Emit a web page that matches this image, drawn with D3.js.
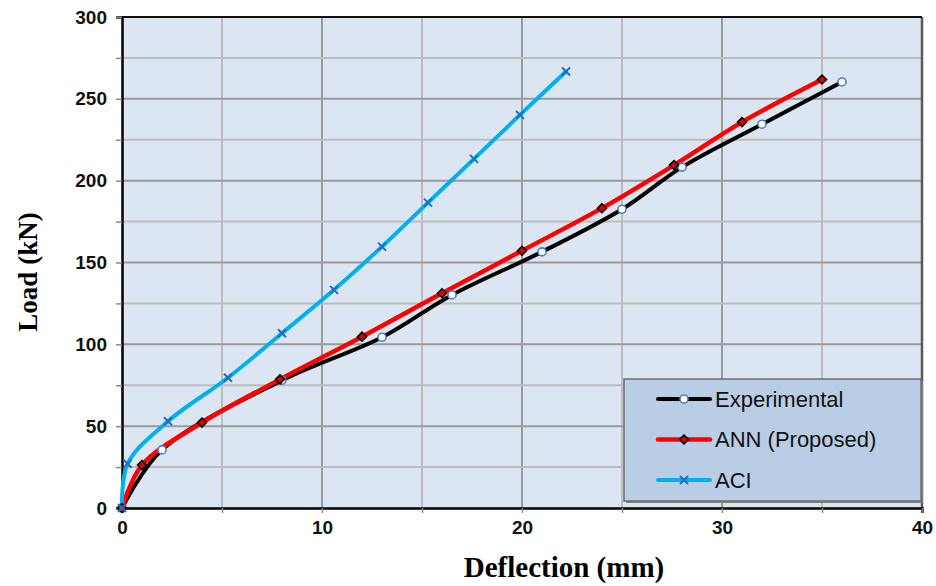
<!DOCTYPE html>
<html>
<head>
<meta charset="utf-8">
<script src="https://cdn.jsdelivr.net/npm/d3@7"></script>
<style>
  body { margin: 0; background: #fff; }
  svg { display: block; }
</style>
</head>
<body>
<div id="chart"></div>
<script>
// values
var expX = [0, 2, 8, 13, 16.5, 21, 25, 28, 32, 36];
var expY = [0, 35.5, 78, 104.3, 130.2, 156.5, 182.5, 208.3, 234.5, 260.3];

var annX = [0, 1, 4, 7.9, 12, 16, 20, 24, 27.6, 31, 35];
var annY = [0, 26.2, 52.2, 78.6, 104.7, 131.2, 157.2, 183.2, 209.5, 235.8, 261.8];

var aciX = [0, 0.28, 2.3, 5.3, 8, 10.6, 13, 15.3, 17.6, 19.9, 22.2];
var aciY = [0, 27, 53, 79.6, 106.8, 133.3, 159.7, 186.6, 213.3, 240.2, 266.7];

var xTicks = [0, 10, 20, 30, 40];
var yTicks = [0, 50, 100, 150, 200, 250, 300];
var seriesNames = ["Experimental", "ANN (Proposed)", "ACI"];

var width = 936, height = 586;
var margin = {top: 17, right: 14, bottom: 78, left: 122};
var plotW = width - margin.left - margin.right,
    plotH = height - margin.top - margin.bottom;

var x = d3.scaleLinear().domain([0, 40]).range([margin.left, margin.left + plotW]);
var y = d3.scaleLinear().domain([0, 300]).range([margin.top + plotH, margin.top]);

var svg = d3.select("#chart").append("svg")
    .attr("width", width)
    .attr("height", height);

// plot background
svg.append("rect")
    .attr("x", x(0)).attr("y", y(300))
    .attr("width", x(40) - x(0)).attr("height", y(0) - y(300))
    .attr("fill", "#dce6f2");

// grid lines, every 5 mm and every 25 kN
var g = svg.append("g");
g.selectAll(".vgrid")
    .data(d3.range(5, 40, 5))
    .enter().append("line")
    .attr("x1", function(d) { return x(d); })
    .attr("x2", function(d) { return x(d); })
    .attr("y1", y(0)).attr("y2", y(300))
    .attr("stroke", function(d) { return d % 10 === 0 ? "#9a9a9a" : "#bdbdbd"; })
    .attr("stroke-width", 2);

g.selectAll(".hgrid")
    .data(d3.range(25, 300, 25))
    .enter().append("line")
    .attr("x1", x(0)).attr("x2", x(40))
    .attr("y1", function(d) { return y(d); })
    .attr("y2", function(d) { return y(d); })
    .attr("stroke", function(d) { return d % 50 === 0 ? "#9a9a9a" : "#bdbdbd"; })
    .attr("stroke-width", 2);

// right and top borders
svg.append("line")
    .attr("x1", x(40)).attr("x2", x(40)).attr("y1", y(0)).attr("y2", y(300))
    .attr("stroke", "#595959").attr("stroke-width", 2.5);
svg.append("line")
    .attr("x1", x(0)).attr("x2", x(40)).attr("y1", y(300)).attr("y2", y(300))
    .attr("stroke", "#111").attr("stroke-width", 2);

// axes
var xAxis = d3.axisBottom(x).tickValues(d3.range(0, 45, 5)).tickSize(5)
    .tickFormat(function(d) { return xTicks.indexOf(d) >= 0 ? d : ""; });
var yAxis = d3.axisLeft(y).tickValues(d3.range(0, 325, 25)).tickSize(6)
    .tickFormat(function(d) { return yTicks.indexOf(d) >= 0 ? d : ""; });

var gx = svg.append("g")
    .attr("transform", "translate(0," + y(0) + ")")
    .call(xAxis);
var gy = svg.append("g")
    .attr("transform", "translate(" + x(0) + ",0)")
    .call(yAxis);

[gx, gy].forEach(function(a) {
    a.select(".domain").attr("stroke", "#000").attr("stroke-width", 2.5);
    a.selectAll(".tick line").attr("stroke", "#888").attr("stroke-width", 1.5);
    a.selectAll("text")
        .attr("fill", "#111")
        .style("font-family", "'Liberation Sans', Arial, sans-serif")
        .style("font-weight", "bold")
        .style("font-size", "19px");
});
gx.selectAll("text").attr("dy", "0.71em").attr("y", 13);
gy.selectAll("text").attr("x", -15);

// axis titles
svg.append("text")
    .attr("x", 564).attr("y", 577)
    .attr("text-anchor", "middle")
    .style("font-family", "'Liberation Serif', 'Times New Roman', serif")
    .style("font-weight", "bold")
    .style("font-size", "29px")
    .text("Deflection (mm)");

svg.append("text")
    .attr("transform", "translate(37,272) rotate(-90)")
    .attr("text-anchor", "middle")
    .style("font-family", "'Liberation Serif', 'Times New Roman', serif")
    .style("font-weight", "bold")
    .style("font-size", "27px")
    .text("Load (kN)");

function pairs(xs, ys) {
    return xs.map(function(v, i) { return [v, ys[i]]; });
}

var line = d3.line()
    .x(function(d) { return x(d[0]); })
    .y(function(d) { return y(d[1]); })
    .curve(d3.curveCatmullRom.alpha(0.5));

var series = [
    {name: seriesNames[0], data: pairs(expX, expY), color: "#000000", w: 4, marker: "circle"},
    {name: seriesNames[1], data: pairs(annX, annY), color: "#ff0000", w: 4.5, marker: "diamond"},
    {name: seriesNames[2], data: pairs(aciX, aciY), color: "#00b0f0", w: 4, marker: "cross"}
];

function drawMarker(sel, type) {
    if (type === "circle") {
        sel.append("circle").attr("r", 4)
            .attr("fill", "#fff").attr("stroke", "#4f81bd").attr("stroke-width", 1.6);
    } else if (type === "diamond") {
        sel.append("path").attr("d", "M0,-4.5L4.5,0L0,4.5L-4.5,0Z")
            .attr("fill", "#e00000").attr("stroke", "#000").attr("stroke-width", 1.5);
    } else {
        sel.append("path").attr("d", "M-4,-4L4,4M-4,4L4,-4")
            .attr("stroke", "#1f6fc0").attr("stroke-width", 2);
    }
}

series.forEach(function(s) {
    svg.append("path")
        .datum(s.data)
        .attr("fill", "none")
        .attr("stroke", s.color)
        .attr("stroke-width", s.w)
        .attr("stroke-linejoin", "round")
        .attr("stroke-linecap", "round")
        .attr("d", line);
});

series.forEach(function(s) {
    var pts = svg.selectAll(null)
        .data(s.data)
        .enter().append("g")
        .attr("transform", function(d) { return "translate(" + x(d[0]) + "," + y(d[1]) + ")"; });
    drawMarker(pts, s.marker);
});

// legend
var lg = svg.append("g").attr("transform", "translate(624,379)");
lg.append("rect")
    .attr("x", 2).attr("y", 2).attr("width", 297).attr("height", 122)
    .attr("fill", "#7f7f7f");
lg.append("rect")
    .attr("width", 297).attr("height", 122)
    .attr("fill", "#b9cde5").attr("stroke", "#6d6d6d").attr("stroke-width", 1.5);

series.forEach(function(s, i) {
    var row = lg.append("g").attr("transform", "translate(0," + (20 + i * 40.5) + ")");
    row.append("line")
        .attr("x1", 34).attr("x2", 86)
        .attr("stroke", s.color).attr("stroke-width", s.w)
        .attr("stroke-linecap", "round");
    drawMarker(row.append("g").attr("transform", "translate(60,0)"), s.marker);
    row.append("text")
        .attr("x", 91).attr("dy", "0.35em")
        .style("font-family", "'Liberation Sans', Arial, sans-serif")
        .style("font-size", "22px")
        .attr("fill", "#111")
        .text(s.name);
});
</script>
</body>
</html>
